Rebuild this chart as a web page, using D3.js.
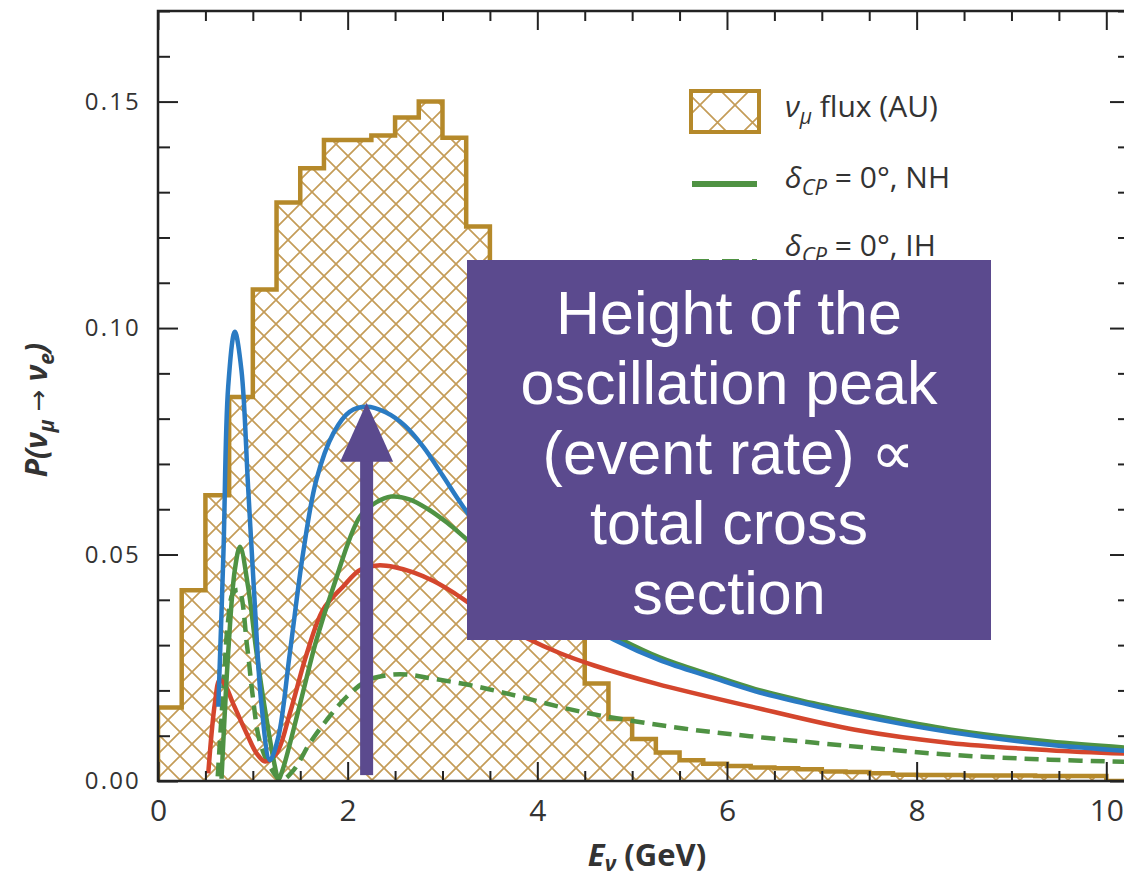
<!DOCTYPE html>
<html>
<head>
<meta charset="utf-8">
<script src="https://cdn.jsdelivr.net/npm/d3@7"></script>
<style>
  body { margin: 0; background: #fff; }
  svg { display: block; font-family: 'Open Sans', 'Noto Sans', sans-serif; }
</style>
</head>
<body>
<svg id="chart" width="1124" height="881"></svg>
<script>
// ---- data ----
const fluxBinWidth = 0.25;
// nu_mu flux (arbitrary units), one value per 0.25 GeV bin starting at 0
const fluxHeights = [
  0.0162, 0.0421, 0.0631, 0.0848, 0.1085, 0.1277, 0.1353, 0.1415,
  0.1415, 0.1425, 0.1465, 0.1500, 0.1420, 0.1224, 0.1050, 0.0850,
  0.0650, 0.0450, 0.0215, 0.0137, 0.0093, 0.0063, 0.0046, 0.0038,
  0.0033, 0.0030, 0.0028, 0.0026, 0.0021, 0.0020, 0.0017, 0.0014,
  0.0013, 0.0013, 0.0012, 0.0012, 0.0012, 0.0011, 0.0011, 0.0011,
  0.0000
];

// oscillation probability curves [E (GeV), P]
const blueCurve = [
  [0.636, 0.0164], [0.69, 0.0503], [0.74, 0.087], [0.81, 0.0992], [0.88, 0.0907],
  [0.95, 0.065], [1.02, 0.0392], [1.09, 0.0171], [1.18, 0.0046], [1.27, 0.0098],
  [1.39, 0.0282], [1.53, 0.0503], [1.67, 0.0665], [1.85, 0.0768], [2.02, 0.0815],
  [2.2, 0.0826], [2.4, 0.0814], [2.6, 0.0785], [2.8, 0.0737], [3.0, 0.0675],
  [3.22, 0.0605], [3.6, 0.050], [4.2, 0.0385], [4.82, 0.0311], [5.29, 0.0267],
  [5.85, 0.0228], [6.3, 0.0198], [6.8, 0.0172], [7.35, 0.0146], [8.35, 0.0108],
  [9.4, 0.0080], [10.25, 0.0066]
];
const greenNH = [
  [0.67, 0.0005], [0.74, 0.0282], [0.81, 0.0466], [0.865, 0.0517], [0.95, 0.0429],
  [1.04, 0.0282], [1.146, 0.0135], [1.233, 0.0032], [1.27, 0.0004], [1.31, 0.0022],
  [1.5, 0.0172], [1.67, 0.0311], [1.85, 0.0429], [2.13, 0.0584], [2.3, 0.0615],
  [2.46, 0.0628], [2.65, 0.0622], [2.85, 0.0600], [3.05, 0.0570], [3.22, 0.054],
  [3.6, 0.047], [4.2, 0.0388], [4.85, 0.0316], [5.29, 0.0273], [5.85, 0.0233],
  [6.3, 0.0203], [6.8, 0.0177], [7.4, 0.0151], [8.35, 0.0114], [9.4, 0.0087],
  [10.25, 0.0073]
];
const redCurve = [
  [0.53, 0.0017], [0.60, 0.0172], [0.65, 0.0223], [0.70, 0.0215], [0.79, 0.0172],
  [0.935, 0.0105], [1.04, 0.0061], [1.13, 0.0043], [1.25, 0.0061], [1.39, 0.0149],
  [1.57, 0.0282], [1.74, 0.0378], [1.95, 0.0429], [2.13, 0.0466], [2.32, 0.0476],
  [2.5, 0.0472], [2.7, 0.0460], [2.9, 0.0442], [3.1, 0.0418], [3.3, 0.0390],
  [3.55, 0.0355], [3.89, 0.0315], [4.24, 0.0282], [4.6, 0.0255], [5.25, 0.0215],
  [6.3, 0.0162], [7.35, 0.0113], [8.35, 0.0084], [9.4, 0.0068], [10.25, 0.006]
];
const greenIH = [
  [0.63, 0.001], [0.69, 0.0208], [0.74, 0.0355], [0.79, 0.0414], [0.85, 0.0422],
  [0.94, 0.0297], [1.0, 0.0186], [1.07, 0.009], [1.18, 0.0032], [1.30, 0.0002],
  [1.43, 0.0024], [1.6, 0.0083], [1.78, 0.0135], [1.99, 0.0186], [2.2, 0.0221],
  [2.4, 0.0233], [2.62, 0.0235], [2.9, 0.0226], [3.33, 0.0210], [3.78, 0.0188],
  [4.48, 0.0152], [5.54, 0.0116], [6.24, 0.0099], [7.3, 0.0077], [8.35, 0.0058],
  [9.4, 0.0047], [10.25, 0.0042]
];

const xMajorTicks = [0, 2, 4, 6, 8, 10];
const yMajorTicks = [0, 0.05, 0.10, 0.15];

// annotation arrow: energy, bottom and tip probability
const arrowE = 2.2;
const arrowBottom = 0.0013;
const arrowHeadBase = 0.0705;
const arrowTip = 0.0835;

const boxLines = ['Height of the', 'oscillation peak', '(event rate) \u221D', 'total cross', 'section'];

// ---- layout ----
const svg = d3.select('#chart');
const plotLeft = 158, plotRight = 1130, plotTop = 11, plotBottom = 781;

const x = d3.scaleLinear().domain([0, 10.25]).range([plotLeft, plotRight]);
const y = d3.scaleLinear().domain([0, 0.17]).range([plotBottom, plotTop]);

const defs = svg.append('defs');
defs.append('clipPath').attr('id', 'plot-clip')
  .append('rect')
  .attr('x', plotLeft).attr('y', plotTop)
  .attr('width', plotRight - plotLeft).attr('height', plotBottom - plotTop);

function addHatch(id, size) {
  defs.append('pattern')
    .attr('id', id)
    .attr('patternUnits', 'userSpaceOnUse')
    .attr('width', size).attr('height', size)
    .append('path')
    .attr('d', `M${-size / 4},${-size / 4}L${size * 1.25},${size * 1.25}M${size * 1.25},${-size / 4}L${-size / 4},${size * 1.25}`)
    .attr('stroke', '#c49c58')
    .attr('stroke-width', 1.7);
}
addHatch('hatch', 24);
addHatch('hatch-legend', 35);

const plot = svg.append('g').attr('clip-path', 'url(#plot-clip)');

// ---- flux histogram ----
const fluxPoints = fluxHeights.map((h, i) => [i * fluxBinWidth, h]);
fluxPoints.push([fluxHeights.length * fluxBinWidth, fluxHeights[fluxHeights.length - 1]]);

const fluxArea = d3.area()
  .x((d) => x(d[0]))
  .y0(y(0))
  .y1((d) => y(d[1]))
  .curve(d3.curveStepAfter);

plot.append('path')
  .datum(fluxPoints)
  .attr('d', fluxArea)
  .attr('fill', 'url(#hatch)');

const fluxLine = d3.line()
  .x((d) => x(d[0]))
  .y((d) => y(d[1]))
  .curve(d3.curveStepAfter);

plot.append('path')
  .datum([[0, 0], ...fluxPoints])
  .attr('d', fluxLine)
  .attr('fill', 'none')
  .attr('stroke', '#b5892a')
  .attr('stroke-width', 4.5);

// ---- probability curves ----
const curveLine = d3.line()
  .x((d) => x(d[0]))
  .y((d) => y(d[1]))
  .curve(d3.curveCatmullRom.alpha(0.5));

const curves = [
  { data: greenIH, color: '#4f9243', dash: '14,8' },
  { data: redCurve, color: '#d4462d', dash: null },
  { data: greenNH, color: '#4f9243', dash: null },
  { data: blueCurve, color: '#2a7bc3', dash: null },
];

curves.forEach((c) => {
  plot.append('path')
    .datum(c.data)
    .attr('d', curveLine)
    .attr('fill', 'none')
    .attr('stroke', c.color)
    .attr('stroke-width', 4.5)
    .attr('stroke-dasharray', c.dash);
});

// ---- axes (ticks inward on all four sides) ----
const xMinorTicks = d3.range(0, 10.26, 0.5).filter((v) => v % 2 !== 0);
const yMinorTicks = d3.range(0, 0.1701, 0.01)
  .map((v) => +v.toFixed(2))
  .filter((v) => Math.round(v * 100) % 5 !== 0);

function styleAxis(g) {
  g.select('.domain').remove();
  g.selectAll('line').attr('stroke', '#222').attr('stroke-width', 2);
  g.selectAll('text').attr('fill', '#333');
}

svg.append('g')
  .attr('transform', `translate(0,${plotBottom})`)
  .call(d3.axisBottom(x).tickValues(xMinorTicks).tickSize(-10).tickFormat(''))
  .call(styleAxis);
svg.append('g')
  .attr('transform', `translate(0,${plotBottom})`)
  .call(d3.axisBottom(x).tickValues(xMajorTicks).tickSize(-19).tickPadding(19).tickFormat(d3.format('d')))
  .call(styleAxis)
  .call((g) => g.selectAll('text').attr('font-size', 30).attr('font-family', "'Open Sans', sans-serif"));

svg.append('g')
  .attr('transform', `translate(0,${plotTop})`)
  .call(d3.axisTop(x).tickValues(xMinorTicks).tickSize(-10).tickFormat(''))
  .call(styleAxis);
svg.append('g')
  .attr('transform', `translate(0,${plotTop})`)
  .call(d3.axisTop(x).tickValues(xMajorTicks).tickSize(-19).tickFormat(''))
  .call(styleAxis);

svg.append('g')
  .attr('transform', `translate(${plotLeft},0)`)
  .call(d3.axisLeft(y).tickValues(yMinorTicks).tickSize(-12).tickFormat(''))
  .call(styleAxis);
svg.append('g')
  .attr('transform', `translate(${plotLeft},0)`)
  .call(d3.axisLeft(y).tickValues(yMajorTicks).tickSize(-20).tickPadding(17).tickFormat(d3.format('.2f')))
  .call(styleAxis)
  .call((g) => g.selectAll('text')
    .attr('font-size', 24)
    .attr('letter-spacing', 2.2)
    .attr('font-family', "'Open Sans', sans-serif"));

svg.append('g')
  .attr('transform', `translate(${plotRight},0)`)
  .call(d3.axisRight(y).tickValues(yMinorTicks).tickSize(-12).tickFormat(''))
  .call(styleAxis);
svg.append('g')
  .attr('transform', `translate(${plotRight},0)`)
  .call(d3.axisRight(y).tickValues(yMajorTicks).tickSize(-20).tickFormat(''))
  .call(styleAxis);

svg.append('rect')
  .attr('x', plotLeft).attr('y', plotTop)
  .attr('width', plotRight - plotLeft).attr('height', plotBottom - plotTop)
  .attr('fill', 'none')
  .attr('stroke', '#222')
  .attr('stroke-width', 2.5);

// ---- axis titles ----
const xTitle = svg.append('text')
  .attr('x', 647).attr('y', 866)
  .attr('text-anchor', 'middle')
  .attr('font-size', 31)
  .attr('font-weight', 'bold')
  .attr('fill', '#333');
xTitle.append('tspan').attr('font-style', 'italic').text('E');
xTitle.append('tspan').attr('font-style', 'italic').attr('font-size', 21).attr('dy', 5).text('\u03BD');
xTitle.append('tspan').attr('dy', -5).text(' (GeV)');

const yTitle = svg.append('text')
  .attr('transform', 'translate(47,410) rotate(-90)')
  .attr('text-anchor', 'middle')
  .attr('font-size', 30)
  .attr('font-weight', 'bold')
  .attr('font-style', 'italic')
  .attr('fill', '#333');
yTitle.append('tspan').text('P(\u03BD');
yTitle.append('tspan').attr('font-size', 21).attr('dy', 7).text('\u03BC');
yTitle.append('tspan').attr('dy', -7)
  .attr('font-family', "'DejaVu Sans', sans-serif")
  .attr('font-weight', 'normal')
  .attr('font-style', 'normal')
  .attr('font-size', 26)
  .text(' \u2192 ');
yTitle.append('tspan').text('\u03BD');
yTitle.append('tspan').attr('font-size', 21).attr('dy', 7).text('e');
yTitle.append('tspan').attr('dy', -7).text(')');

// ---- legend ----
const legend = svg.append('g');
legend.append('rect')
  .attr('x', 691).attr('y', 91)
  .attr('width', 68).attr('height', 41)
  .attr('fill', 'url(#hatch-legend)')
  .attr('stroke', '#b5892a')
  .attr('stroke-width', 4);

legend.append('line')
  .attr('x1', 692).attr('x2', 757)
  .attr('y1', 184).attr('y2', 184)
  .attr('stroke', '#4f9243').attr('stroke-width', 6);

legend.append('line')
  .attr('x1', 692).attr('x2', 757)
  .attr('y1', 262).attr('y2', 262)
  .attr('stroke', '#4f9243').attr('stroke-width', 6)
  .attr('stroke-dasharray', '17,13');

function legendText(yPos, parts) {
  const t = legend.append('text')
    .attr('x', 785).attr('y', yPos)
    .attr('font-size', 30)
    .attr('fill', '#333');
  parts(t);
}
legendText(117, (t) => {
  t.append('tspan').attr('font-style', 'italic').text('\u03BD');
  t.append('tspan').attr('font-style', 'italic').attr('font-size', 21).attr('dy', 7).text('\u03BC');
  t.append('tspan').attr('dy', -7).text(' flux (AU)');
});
legendText(188, (t) => {
  t.append('tspan').attr('font-style', 'italic').text('\u03B4');
  t.append('tspan').attr('font-style', 'italic').attr('font-size', 22).attr('dy', 7).text('CP');
  t.append('tspan').attr('dy', -7).text(' = 0\u00B0, NH');
});
legendText(256, (t) => {
  t.append('tspan').attr('font-style', 'italic').text('\u03B4');
  t.append('tspan').attr('font-style', 'italic').attr('font-size', 22).attr('dy', 7).text('CP');
  t.append('tspan').attr('dy', -7).text(' = 0\u00B0, IH');
});

// ---- annotation arrow ----
const ax = x(arrowE);
svg.append('rect')
  .attr('x', ax - 6.5).attr('y', y(arrowHeadBase) - 1)
  .attr('width', 13).attr('height', y(arrowBottom) - y(arrowHeadBase) + 1)
  .attr('fill', '#5b4a8e');
svg.append('path')
  .attr('d', `M${ax - 26.5},${y(arrowHeadBase)}L${ax + 26.5},${y(arrowHeadBase)}L${ax},${y(arrowTip)}Z`)
  .attr('fill', '#5b4a8e');

// ---- annotation box ----
svg.append('rect')
  .attr('x', 467).attr('y', 260)
  .attr('width', 524).attr('height', 380)
  .attr('fill', '#5b4a8e');

svg.append('g')
  .selectAll('text')
  .data(boxLines)
  .join('text')
  .attr('x', 729)
  .attr('y', (d, i) => 334 + i * 70)
  .attr('text-anchor', 'middle')
  .attr('font-family', "'Liberation Sans', Arial, sans-serif")
  .attr('font-size', 61)
  .attr('fill', '#fff')
  .text((d) => d);
</script>
</body>
</html>
